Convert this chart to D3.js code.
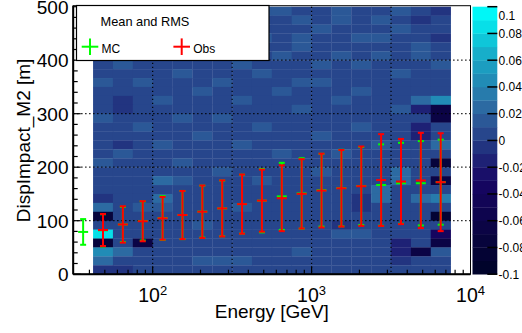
<!DOCTYPE html>
<html><head><meta charset="utf-8">
<script src="https://cdn.jsdelivr.net/npm/d3@7"></script>
<style>
html,body{margin:0;padding:0;background:#fff;overflow:hidden}
svg{display:block;font-family:"Liberation Sans",Arial,Helvetica,sans-serif}
</style></head>
<body><svg id="chart" width="522" height="333"></svg>
<script>
// ---- data ----
const energyEdges = [31.62, 42.17, 56.23, 74.99, 100, 133.35, 177.83, 237.14, 316.23, 421.70, 562.34, 749.89, 1000, 1333.52, 1778.28, 2371.37, 3162.28, 4216.97, 5623.41, 7498.94];
const heatBinStart = 1; // heat map columns use energy bins 1..18
const dispEdges = [0,16.67,33.33,50,66.67,83.33,100,116.67,133.33,150,166.67,183.33,200,216.67,233.33,250,266.67,283.33,300,316.67,333.33,350,366.67,383.33,400,416.67,433.33,450,466.67,483.33,500];
// cell values, rows from TOP (483-500) to BOTTOM (0-16.7), 18 energy columns
const cellRows = [
[0.005,0.015,0.015,0.005,0.005,0.015,0.005,0.005,0.015,0.015,0.005,0.005,0.015,0.005,0.005,0.015,0.005,-0.005],
[0.015,0.005,0.005,0.005,0.015,0.005,0.015,0.005,0.005,0.005,0.015,0.005,0.015,0.005,0.015,0.005,-0.005,0.005],
[0.005,0.015,0.005,0.015,0.005,0.005,0.005,0.015,0.005,0.005,0.005,0.015,0.005,0.005,0.005,0.015,0.005,0.005],
[0.005,0.005,0.015,0.005,0.015,0.005,0.005,0.005,0.015,0.005,0.015,0.005,0.005,0.015,0.015,0.005,0.005,-0.005],
[0.015,0.005,0.005,0.005,0.005,0.015,0.005,0.015,0.005,0.005,0.015,0.005,0.005,0.005,0.005,0.005,0.015,0.005],
[0.005,0.005,0.005,0.015,0.005,0.005,0.015,0.005,0.005,0.015,0.005,0.005,0.015,0.005,0.015,0.005,0.015,0.005],
[0.005,0.015,0.005,0.005,0.005,0.005,0.005,0.015,0.005,0.005,0.005,0.015,0.005,0.015,0.005,0.005,0.005,0.015],
[0.005,0.005,0.005,0.005,0.015,0.005,0.005,0.005,0.015,0.005,0.005,0.005,0.005,0.005,0.005,0.015,0.005,0.005],
[0.015,0.005,0.015,0.005,0.005,0.005,0.015,0.005,0.005,0.005,0.015,0.015,0.005,0.005,0.005,0.005,0.005,0.005],
[0.005,0.005,0.005,0.005,0.005,0.015,0.005,0.005,0.005,0.015,0.005,0.005,0.005,0.015,0.005,0.005,0.005,0.005],
[0.005,-0.005,0.005,0.015,0.005,0.005,0.005,0.015,0.005,0.005,0.005,0.005,0.015,0.005,0.005,0.005,0.025,0.045],
[0.005,-0.005,0.005,0.005,0.005,0.005,0.005,0.005,0.005,0.005,0.015,0.005,0.005,0.005,0.005,0.015,-0.015,-0.065],
[0.015,0.005,0.005,0.005,0.015,0.005,0.015,0.005,0.005,0.005,0.005,0.005,0.005,0.005,0.005,0.005,0.005,-0.065],
[0.005,0.005,0.015,0.005,0.005,0.005,0.005,0.005,0.015,0.005,0.005,0.005,0.005,0.015,0.005,0.005,-0.015,0.005],
[0.005,0.005,0.005,0.005,0.005,0.015,0.005,0.005,0.005,0.005,0.005,0.015,0.005,0.005,0.005,0.005,-0.015,0.005],
[0.005,-0.005,0.005,0.015,0.005,0.005,0.005,0.015,0.005,0.005,0.005,0.005,0.005,0.005,0.015,0.005,0.005,0.025],
[0.005,0.015,0.005,0.005,0.005,0.005,0.005,0.005,0.005,0.015,0.005,0.005,0.015,0.005,0.005,0.005,0.005,0.005],
[0.015,0.005,0.005,0.005,0.015,0.005,0.005,0.005,0.005,0.005,0.005,0.005,0.005,0.005,0.005,0.005,0.005,-0.075],
[0.005,0.005,0.005,0.005,0.005,0.005,0.015,0.005,0.005,0.005,0.005,0.015,0.005,0.005,0.005,0.025,0.005,0.005],
[0.005,0.005,0.005,0.025,0.015,0.005,0.005,0.005,0.015,0.005,0.005,0.005,0.005,0.005,0.005,0.025,0.005,-0.065],
[0.005,0.005,0.005,0.005,0.005,0.005,0.005,0.005,0.005,0.005,0.005,0.005,0.005,0.005,0.025,0.005,0.005,0.005],
[-0.005,0.005,0.005,0.025,0.005,0.005,0.005,0.005,0.005,0.005,0.005,0.005,0.005,-0.005,0.025,0.005,0.025,0.035],
[0.025,0.005,0.015,0.015,0.005,0.005,0.005,0.015,0.005,0.005,0.005,0.005,0.005,-0.005,0.005,0.005,0.005,0.005],
[-0.075,0.005,0.005,0.005,0.005,0.005,0.005,0.005,0.005,0.005,0.005,0.005,0.005,0.005,0.005,0.005,0.005,-0.085],
[0.005,0.005,0.005,0.005,0.005,0.015,0.005,0.005,0.005,0.005,0.005,0.005,-0.005,0.005,0.005,0.005,0.005,0.005],
[0.085,0.005,0.005,0.005,0.005,0.005,0.005,0.005,0.005,0.005,0.005,0.005,0.015,0.015,0.005,0.005,0.005,-0.035],
[-0.075,0.005,-0.065,0.005,0.005,0.005,0.005,0.005,0.005,0.005,0.005,0.005,0.005,0.005,0.005,-0.015,0.005,-0.065],
[0.045,0.025,0.005,0.005,0.005,0.005,0.005,0.005,0.005,0.005,0.015,0.005,0.005,0.005,0.005,-0.015,-0.065,0.015],
[0.025,0.005,0.005,0.005,0.005,0.015,0.015,0.015,0.005,0.005,0.005,0.005,0.005,0.005,0.005,-0.005,0.005,0.005],
[-0.005,-0.005,0.005,0.005,0.005,0.005,0.005,0.005,0.005,0.005,0.005,0.005,0.005,0.005,0.005,0.005,0.005,0.005]
];
// Mean and RMS per energy bin (bin 0..18)
const mcMean = [79, 82, 93, 99.5, 105, 110.6, 117, 123, 131, 137.4, 145.5, 151, 157, 161, 164.9, 166.7, 170, 170, 172];
const mcRms  = [24, 30, 33, 36.5, 41, 45, 48.5, 52, 55, 59.2, 62.7, 65.8, 68, 71.5, 72.9, 76, 75.6, 78.8, 79.5];
const obsMean = [null, 82.6, 93, 99, 104.5, 110.6, 116.8, 123, 131, 137.5, 142, 150.2, 156.3, 160.6, 164.5, 176, 173.2, 175.2, 172];
const obsRms  = [null, 30, 34, 37.5, 40, 45, 49, 52.4, 55.3, 58, 61.5, 64.8, 69, 71.6, 74.2, 85.8, 79.6, 89, 91.5];
const yTicks = [0, 100, 200, 300, 400, 500];
const xTickExps = [2, 3, 4];
const paletteTicks = [0.1, 0.08, 0.06, 0.04, 0.02, 0, -0.02, -0.04, -0.06, -0.08, -0.1];
const paletteMin = -0.1, paletteMax = 0.1, nLevels = 20;

// ---- layout ----
const svg = d3.select("#chart");
const L = 73.2, R = 470.5, T = 6.7, B = 274.2;
const x = d3.scaleLog().domain([Math.pow(10,1.5), 1e4]).range([L, R]);
const y = d3.scaleLinear().domain([0, 500]).range([B, T]);

// palette (ROOT deep sea like)
const stops = [0, 0.34, 0.61, 0.84, 1.0];
const stopCols = ["rgb(0,3,43)", "rgb(23,5,99)", "rgb(46,99,158)", "rgb(23,173,201)", "rgb(0,247,247)"];
const grad = d3.scaleLinear().domain(stops).range(stopCols).interpolate(d3.interpolateRgb);
const bandColors = d3.range(nLevels).map(i => grad(i/(nLevels-1)));
const color = d3.scaleQuantize().domain([paletteMin, paletteMax]).range(bandColors);

// heat cells
const cells = [];
cellRows.forEach((row, ti) => {
  const yi = cellRows.length - 1 - ti;
  row.forEach((v, ci) => {
    const k = ci + heatBinStart;
    cells.push({x0: energyEdges[k], x1: energyEdges[k+1], y0: dispEdges[yi], y1: dispEdges[yi+1], v});
  });
});
svg.append("g").selectAll("rect").data(cells).join("rect")
  .attr("x", d => x(d.x0)).attr("width", d => x(d.x1) - x(d.x0) + 0.3)
  .attr("y", d => y(d.y1)).attr("height", d => y(d.y0) - y(d.y1) + 0.3)
  .attr("fill", d => color(d.v));

// grid (dotted)
const gridX = [100, 316.23, 1000, 3162.28];
const grid = svg.append("g").attr("stroke", "#000").attr("stroke-width", 1.2).attr("stroke-dasharray", "1.3,2.7");
gridX.forEach(v => grid.append("line").attr("x1", x(v)).attr("x2", x(v)).attr("y1", T).attr("y2", B));
[100,200,300,400].forEach(v => grid.append("line").attr("x1", L).attr("x2", R).attr("y1", y(v)).attr("y2", y(v)));

// error bars
function drawBars(means, rms, g) {
  means.forEach((m, k) => {
    if (m == null) return;
    const cx = x(Math.sqrt(energyEdges[k]*energyEdges[k+1]));
    const r = rms[k];
    g.append("line").attr("x1", cx).attr("x2", cx).attr("y1", y(m - r)).attr("y2", y(m + r));
    g.append("line").attr("x1", cx-3).attr("x2", cx+3).attr("y1", y(m - r)).attr("y2", y(m - r));
    g.append("line").attr("x1", cx-3).attr("x2", cx+3).attr("y1", y(m + r)).attr("y2", y(m + r));
    g.append("line").attr("x1", cx-5).attr("x2", cx+5).attr("y1", y(m)).attr("y2", y(m));
  });
}
drawBars(mcMean, mcRms, svg.append("g").attr("stroke", "#00ff00").attr("stroke-width", 2));
drawBars(obsMean, obsRms, svg.append("g").attr("stroke", "#ff0000").attr("stroke-width", 2));

// frame
svg.append("rect").attr("x", L).attr("y", T - 1).attr("width", R - L).attr("height", B - T + 1)
  .attr("fill", "none").attr("stroke", "#000").attr("stroke-width", 1);

// y axis
const ya = svg.append("g");
ya.append("line").attr("x1", L).attr("x2", L).attr("y1", T-1).attr("y2", B).attr("stroke", "#000").attr("stroke-width", 2);
d3.range(0, 501, 20).forEach(v => {
  const major = v % 100 === 0;
  ya.append("line").attr("x1", L).attr("x2", L + (major ? 7.5 : 4.5)).attr("y1", y(v)).attr("y2", y(v))
    .attr("stroke", "#000").attr("stroke-width", 1.2);
});
yTicks.forEach(v => {
  ya.append("text").attr("x", 68.5).attr("y", y(v)).attr("dy", "0.36em").attr("text-anchor", "end")
    .attr("font-size", 19).text(v);
});
svg.append("text").attr("transform", `translate(29.5,${(T+B)/2}) rotate(-90)`).attr("text-anchor", "middle")
  .attr("font-size", 19).text("DispImpact_M2 [m]");

// x axis
const xa = svg.append("g");
xa.append("line").attr("x1", L).attr("x2", R).attr("y1", B).attr("y2", B).attr("stroke", "#000").attr("stroke-width", 2);
[1,2,3].forEach(e => {
  for (let m = 1; m < 10; m++) {
    const v = m * Math.pow(10, e);
    if (v < x.domain()[0] || v > 1e4) continue;
    const major = m === 1;
    xa.append("line").attr("x1", x(v)).attr("x2", x(v)).attr("y1", B).attr("y2", B - (major ? 8 : 4.5))
      .attr("stroke", "#000").attr("stroke-width", 1.2);
  }
});
xTickExps.forEach(e => {
  const t = xa.append("text").attr("x", x(Math.pow(10, e))).attr("y", 301.5).attr("text-anchor", "middle").attr("font-size", 19.5);
  t.append("tspan").text("10");
  t.append("tspan").attr("dy", -7).attr("font-size", 13).text(e);
});
svg.append("text").attr("x", (L + R)/2).attr("y", 318).attr("text-anchor", "middle").attr("font-size", 19).text("Energy [GeV]");

// palette
const PL = 472.5, PR = 497.3;
const py = d3.scaleLinear().domain([paletteMin, paletteMax]).range([B, T]);
const pg = svg.append("g");
bandColors.forEach((c, i) => {
  const v0 = paletteMin + i*(paletteMax-paletteMin)/nLevels, v1 = v0 + (paletteMax-paletteMin)/nLevels;
  pg.append("rect").attr("x", PL).attr("width", PR-PL).attr("y", py(v1)).attr("height", py(v0)-py(v1)+0.3).attr("fill", c);
});
paletteTicks.forEach((v, i) => {
  pg.append("line").attr("x1", PR).attr("x2", PR - 10).attr("y1", py(v)).attr("y2", py(v)).attr("stroke", "#000").attr("stroke-width", 1.5);
  pg.append("text").attr("x", 498.5).attr("y", i === 0 ? py(v) + 9 : py(v)).attr("dy", "0.36em").attr("font-size", 12)
    .text(v === 0 ? "0" : String(v));
});

// legend
const lg = svg.append("g");
lg.append("rect").attr("x", 76.5).attr("y", 5.5).attr("width", 192.5).attr("height", 55).attr("fill", "#fff").attr("stroke", "#000").attr("stroke-width", 1.2);
lg.append("text").attr("x", 100.5).attr("y", 26).attr("font-size", 12.8).text("Mean and RMS");
[[90, "#00ff00", "MC"], [181.7, "#ff0000", "Obs"]].forEach(([cx, c, label]) => {
  lg.append("line").attr("x1", cx-8.3).attr("x2", cx+8.3).attr("y1", 46.7).attr("y2", 46.7).attr("stroke", c).attr("stroke-width", 2);
  lg.append("line").attr("x1", cx).attr("x2", cx).attr("y1", 38.4).attr("y2", 55).attr("stroke", c).attr("stroke-width", 2);
  lg.append("text").attr("x", cx + 11.5).attr("y", 52.5).attr("font-size", 12).text(label);
});
</script></body></html>
